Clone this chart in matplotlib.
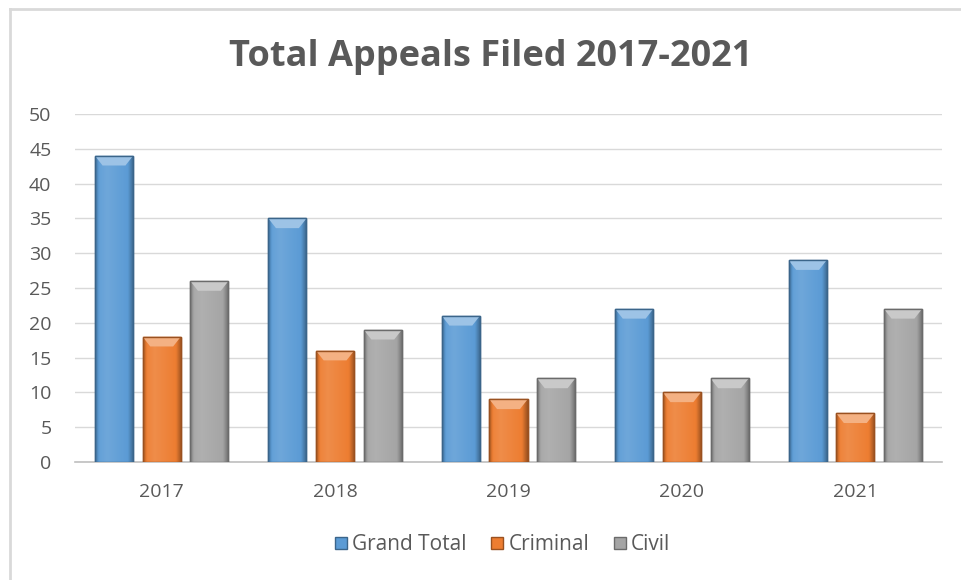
import matplotlib
matplotlib.use("Agg")
import matplotlib.pyplot as plt
import numpy as np
from matplotlib.colors import to_rgb
from matplotlib.patches import Polygon, Rectangle
from matplotlib.lines import Line2D

years = ["2017", "2018", "2019", "2020", "2021"]
series_names = ["Grand Total", "Criminal", "Civil"]
grand_total = [44, 35, 21, 22, 29]
criminal = [18, 16, 9, 10, 7]
civil = [26, 19, 12, 12, 22]
colors = ["#5B9BD5", "#ED7D31", "#A5A5A5"]

plt.rcParams['font.family'] = ['Open Sans', 'DejaVu Sans']

fig = plt.figure(figsize=(9.61, 5.8), dpi=100)
ax = fig.add_axes([75/961, 1-462/580, (942-75)/961, (462-114)/580])

x = np.arange(len(years))
step = 0.275
width = 0.22
data = [grand_total, criminal, civil]

def shade(c, f):
    r = np.array(to_rgb(c))
    if f >= 0:
        return tuple(r + (1 - r) * f)
    return tuple(r * (1 + f))

for i, (vals, col) in enumerate(zip(data, colors)):
    bars = ax.bar(x + (i - 1) * step, vals, width, color=col,
                  edgecolor=shade(col, -0.35), linewidth=1.0, zorder=3,
                  label=series_names[i])
    grad = np.linspace(0, 1, 64)
    prof = np.interp(grad, [0, 0.1, 0.3, 0.85, 1], [-0.3, 0.05, 0.12, 0.0, -0.35])
    img = np.array([shade(col, p) for p in prof])[None, :, :]
    for b in bars:
        x0, w, h = b.get_x(), b.get_width(), b.get_height()
        im = ax.imshow(img, extent=[x0, x0 + w, 0, h], aspect='auto',
                       zorder=3.5, interpolation='bicubic')
        im.set_clip_path(b)
        d = w * 0.2
        c = 1.4
        cap = Polygon([(x0, h), (x0 + w, h), (x0 + w - d, h - c), (x0 + d, h - c)],
                      closed=True, facecolor=shade(col, 0.4), edgecolor='none', zorder=4)
        ax.add_patch(cap)
        outline = Rectangle((x0, 0), w, h, fill=False,
                            edgecolor=shade(col, -0.35), linewidth=1.0, zorder=4.5)
        ax.add_patch(outline)

ax.set_xlim(-0.5, len(years) - 0.5)
ax.set_ylim(0, 50)
ax.set_yticks(np.arange(0, 51, 5))
ax.set_xticks(x)
ax.set_xticklabels(years)
ax.yaxis.grid(True, color="#D9D9D9", linewidth=1.0, zorder=0)
ax.set_axisbelow(True)
for s in ["top", "right", "left"]:
    ax.spines[s].set_visible(False)
ax.spines["bottom"].set_color("#BFBFBF")
ax.spines["bottom"].set_linewidth(1.2)
ax.tick_params(axis='both', length=0, colors="#595959", labelsize=14)
ax.tick_params(axis='x', pad=15)
ax.tick_params(axis='y', pad=17)

fig.text(0.511, 1 - 57/580, "Total Appeals Filed 2017-2021", ha='center', va='center',
         fontsize=26, fontweight='bold', color="#595959")

handles = [Line2D([0], [0], marker='s', linestyle='none', markersize=8.5,
                  markerfacecolor=c, markeredgecolor=shade(c, -0.35)) for c in colors]
fig.legend(handles, series_names, loc='center', bbox_to_anchor=(0.518, 1 - 545/580),
           ncol=3, frameon=False, fontsize=15, labelcolor="#595959",
           handletextpad=-0.2, columnspacing=0.7, handlelength=1.5)

fig.add_artist(Line2D([10/961, 10/961], [0, 1 - 9/580], color="#D9D9D9", linewidth=2,
                      transform=fig.transFigure))
fig.add_artist(Line2D([10/961, 1], [1 - 9/580, 1 - 9/580], color="#D9D9D9", linewidth=2,
                      transform=fig.transFigure))

fig.savefig("out.png", dpi=100)
